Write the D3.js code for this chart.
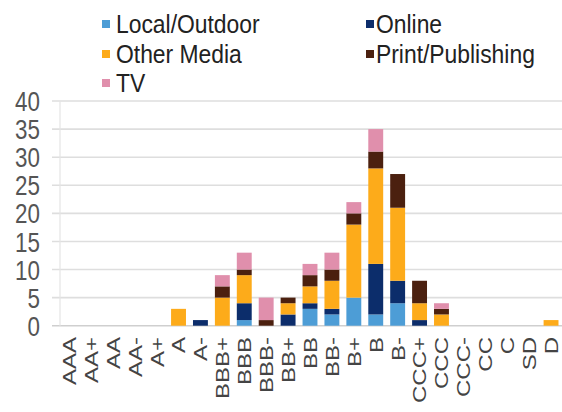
<!DOCTYPE html>
<html>
<head>
<meta charset="utf-8">
<script src="https://cdn.jsdelivr.net/npm/d3@7"></script>
<style>
  html, body { margin: 0; padding: 0; background: #fff; }
  svg { display: block; }
  text { font-family: "Liberation Sans", Arial, sans-serif; }
</style>
</head>
<body>
<svg id="chart" width="562" height="412"></svg>
<script>
const categories = ["AAA","AA+","AA","AA-","A+","A","A-","BBB+","BBB","BBB-","BB+","BB","BB-","B+","B","B-","CCC+","CCC","CCC-","CC","C","SD","D"];
const seriesNames = ["Local/Outdoor","Online","Other Media","Print/Publishing","TV"];
const localOutdoor    = [0,0,0,0,0,0,0,0,1,0,0,3,2,5,2,4,0,0,0,0,0,0,0];
const online          = [0,0,0,0,0,0,1,0,3,0,2,1,1,0,9,4,1,0,0,0,0,0,0];
const otherMedia      = [0,0,0,0,0,3,0,5,5,0,2,3,5,13,17,13,3,2,0,0,0,0,1];
const printPublishing = [0,0,0,0,0,0,0,2,1,1,1,2,2,2,3,6,4,1,0,0,0,0,0];
const tv              = [0,0,0,0,0,0,0,2,3,4,0,2,3,2,4,0,0,1,0,0,0,0,0];
const yTicks = [0,5,10,15,20,25,30,35,40];
const colors = ["#4d9dd6","#0c2d6b","#fdab1a","#4b200f","#e08fac"];

const seriesValues = [localOutdoor, online, otherMedia, printPublishing, tv];
const table = categories.map((c, i) => {
  const row = { cat: c };
  seriesNames.forEach((s, k) => row[s] = seriesValues[k][i]);
  return row;
});

const svg = d3.select("#chart");
const x = d3.scaleBand().domain(categories).range([58, 562]).paddingInner(0.32).paddingOuter(0.16);
const y = d3.scaleLinear().domain([0, 40]).range([325.7, 101]);
const SX = 0.8;

// gridlines
svg.append("g").selectAll("line").data(yTicks).join("line")
  .attr("x1", 52).attr("x2", 562)
  .attr("y1", d => y(d)).attr("y2", d => y(d))
  .attr("stroke", d => d === 0 ? "#cfcfcf" : "#dedede").attr("stroke-width", 1.6);
svg.append("line").attr("x1", 60).attr("x2", 60).attr("y1", y(40)).attr("y2", y(0))
  .attr("stroke", "#e4e4e4").attr("stroke-width", 1.2);

// y tick labels
svg.append("g").selectAll("text").data(yTicks).join("text")
  .attr("transform", d => `translate(40,${y(d)}) scale(${SX},1)`)
  .attr("text-anchor", "end").attr("dy", "0.36em")
  .attr("font-size", 28).attr("fill", "#555")
  .text(d => d);

// stacked bars
const stack = d3.stack().keys(seriesNames)(table);
svg.append("g").selectAll("g").data(stack).join("g")
  .attr("fill", (d, i) => colors[i])
  .selectAll("rect").data(d => d).join("rect")
  .attr("x", d => x(d.data.cat))
  .attr("width", x.bandwidth())
  .attr("y", d => y(d[1]))
  .attr("height", d => y(d[0]) - y(d[1]));

// x labels
svg.append("g").selectAll("text").data(categories).join("text")
  .attr("transform", d => `translate(${x(d) + x.bandwidth()/2},337) scale(${SX},1) rotate(-90)`)
  .attr("text-anchor", "end").attr("dy", "0.36em")
  .attr("font-size", 24).attr("fill", "#444")
  .text(d => d);

// legend
const legendPos = [
  { sx: 102, tx: 116, by: 33 },
  { sx: 366, tx: 376, by: 33 },
  { sx: 102, tx: 116, by: 63 },
  { sx: 366, tx: 376, by: 63 },
  { sx: 102, tx: 116, by: 92 }
];
const lg = svg.append("g");
seriesNames.forEach((s, i) => {
  const p = legendPos[i];
  lg.append("rect").attr("x", p.sx).attr("y", p.by - 13).attr("width", 8).attr("height", 8).attr("fill", colors[i]);
  lg.append("text").attr("transform", `translate(${p.tx},${p.by}) scale(0.88,1)`)
    .attr("font-size", 26).attr("fill", "#222").text(s);
});
</script>
</body>
</html>
